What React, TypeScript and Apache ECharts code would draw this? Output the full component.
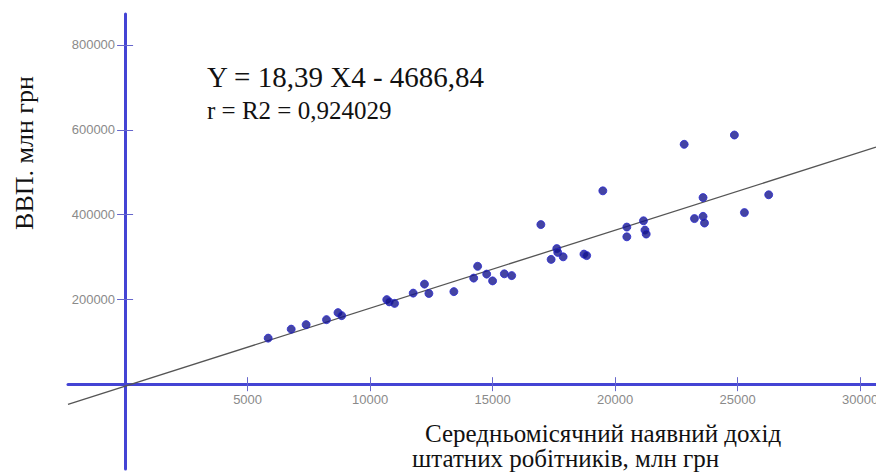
import React, { useEffect, useRef } from "react";
import * as echarts from "echarts";

// Scatter points: [average monthly disposable income, GDP]
const incomeValues = [
  5840, 6780, 7390, 8220, 8690, 8840, 10680, 10780, 11000, 11760,
  12220, 12400, 13420, 14230, 14390, 14760, 15000, 15480, 15780, 16970,
  17390, 17620, 17660, 17880, 18730, 18840, 19500, 20480, 20480, 21160,
  21220, 21270, 22820, 23240, 23590, 23590, 23650, 24870, 25280, 26270,
];
const gdpValues = [
  108600, 129800, 140400, 152200, 168700, 161700, 199400, 194200, 190500, 214800,
  236000, 214000, 218300, 250200, 278000, 259600, 243600, 260300, 256100, 376400,
  294300, 319800, 310800, 300400, 306800, 303300, 456000, 370500, 347600, 385400,
  363400, 354000, 565700, 390600, 440100, 395800, 380000, 587600, 404700, 446700,
];
// Regression line endpoints (Y = 18,39 X - 4686,84)
const trendX = [-2330, 30650];
const trendY = [-47536, 558967];

const xTicks = [5000, 10000, 15000, 20000, 25000, 30000];
const yTicks = [200000, 400000, 600000, 800000];

const equationText = "Y = 18,39 X4 - 4686,84";
const rText = "r = R2 = 0,924029";
const yName = "ВВП. млн грн";
const xNameLine1 = "Середньомісячний наявний дохід";
const xNameLine2 = "штатних робітників, млн грн";

const X_MIN = -2330;
const X_MAX = 30650;
const Y_MIN = -200000;
const Y_MAX = 873000;

const W = 876;
const H = 475;
const GRID_LEFT = 68;
const GRID_RIGHT = 0;
const GRID_TOP = 14;
const GRID_BOTTOM = 6;

const AXIS_BLUE = "#4444d4";
const TICK_COLOR = "#6666cc";
const SERIF = "'Liberation Serif', 'Times New Roman', serif";

export default function App() {
  const ref = useRef<HTMLDivElement>(null);

  useEffect(() => {
    if (!ref.current) return;
    const chart = echarts.init(ref.current, undefined, { renderer: "svg" });
    const points = incomeValues.map((x, i) => [x, gdpValues[i]]);
    const trend = trendX.map((x, i) => [x, trendY[i]]);

    // place the axes where the other axis is zero, by offsetting from grid edges
    const gridW = W - GRID_LEFT - GRID_RIGHT;
    const gridH = H - GRID_TOP - GRID_BOTTOM;
    const zeroFromLeft = (gridW * (0 - X_MIN)) / (X_MAX - X_MIN);
    const zeroFromBottom = (gridH * (0 - Y_MIN)) / (Y_MAX - Y_MIN);
    const xOffset = -zeroFromBottom;
    const yOffset = -zeroFromLeft;

    const tickLabel = {
      color: "#8a8a8a",
      fontFamily: "'Liberation Sans', Arial, sans-serif",
      fontSize: 13,
      formatter: (v: number) => String(v),
    };

    chart.setOption({
      animation: false,
      backgroundColor: "#ffffff",
      grid: {
        left: GRID_LEFT,
        right: GRID_RIGHT,
        top: GRID_TOP,
        bottom: GRID_BOTTOM,
        containLabel: false,
        outerBoundsMode: "none",
      },
      xAxis: [
        {
          type: "value",
          min: X_MIN,
          max: X_MAX,
          position: "bottom",
          offset: xOffset,
          axisLine: { onZero: false, lineStyle: { color: AXIS_BLUE, width: 3 } },
          splitLine: { show: false },
          axisTick: {
            show: true,
            customValues: xTicks,
            length: 7,
            lineStyle: { color: TICK_COLOR, width: 1 },
          },
          axisLabel: { ...tickLabel, customValues: xTicks, margin: 9 },
        },
        {
          type: "value",
          min: X_MIN,
          max: X_MAX,
          position: "bottom",
          offset: xOffset,
          axisLine: { show: false, onZero: false },
          splitLine: { show: false },
          axisTick: {
            show: true,
            inside: true,
            customValues: xTicks,
            length: 7,
            lineStyle: { color: TICK_COLOR, width: 1 },
          },
          axisLabel: { show: false },
        },
      ],
      yAxis: [
        {
          type: "value",
          min: Y_MIN,
          max: Y_MAX,
          position: "left",
          offset: yOffset,
          axisLine: { onZero: false, lineStyle: { color: AXIS_BLUE, width: 3 } },
          splitLine: { show: false },
          axisTick: {
            show: true,
            customValues: yTicks,
            length: 8,
            lineStyle: { color: TICK_COLOR, width: 1 },
          },
          axisLabel: { ...tickLabel, customValues: yTicks, margin: 10 },
        },
        {
          type: "value",
          min: Y_MIN,
          max: Y_MAX,
          position: "left",
          offset: yOffset,
          axisLine: { show: false, onZero: false },
          splitLine: { show: false },
          axisTick: {
            show: true,
            inside: true,
            customValues: yTicks,
            length: 8,
            lineStyle: { color: TICK_COLOR, width: 1 },
          },
          axisLabel: { show: false },
        },
      ],
      series: [
        {
          type: "line",
          data: trend,
          xAxisIndex: 0,
          yAxisIndex: 0,
          showSymbol: false,
          symbol: "none",
          lineStyle: { color: "#555555", width: 1.3 },
          silent: true,
          z: 2,
        },
        {
          type: "scatter",
          data: points,
          xAxisIndex: 0,
          yAxisIndex: 0,
          symbol: "circle",
          symbolSize: 8,
          itemStyle: { color: "#15158c", borderColor: "#2a2ad0", borderWidth: 1 },
          z: 3,
        },
      ],
      graphic: [
        {
          type: "text",
          left: 207,
          top: 62,
          style: {
            text: equationText,
            font: `29px ${SERIF}`,
            fill: "#111111",
          },
        },
        {
          type: "text",
          left: 207,
          top: 98,
          style: {
            text: rText,
            font: `25px ${SERIF}`,
            fill: "#111111",
          },
        },
        {
          type: "text",
          x: 24,
          y: 153,
          rotation: Math.PI / 2,
          style: {
            text: yName,
            font: `26px ${SERIF}`,
            fill: "#111111",
            align: "center",
            verticalAlign: "middle",
          },
        },
        {
          type: "text",
          left: 425,
          top: 421,
          style: {
            text: xNameLine1,
            font: `25px ${SERIF}`,
            lineHeight: 24,
            fill: "#111111",
          },
        },
        {
          type: "text",
          left: 412,
          top: 446,
          style: {
            text: xNameLine2,
            font: `25px ${SERIF}`,
            lineHeight: 24,
            fill: "#111111",
          },
        },
      ],
    });

    return () => {
      chart.dispose();
    };
  }, []);

  return (
    <div
      ref={ref}
      style={{ position: "fixed", left: 0, top: 0, width: W, height: H }}
    />
  );
}
